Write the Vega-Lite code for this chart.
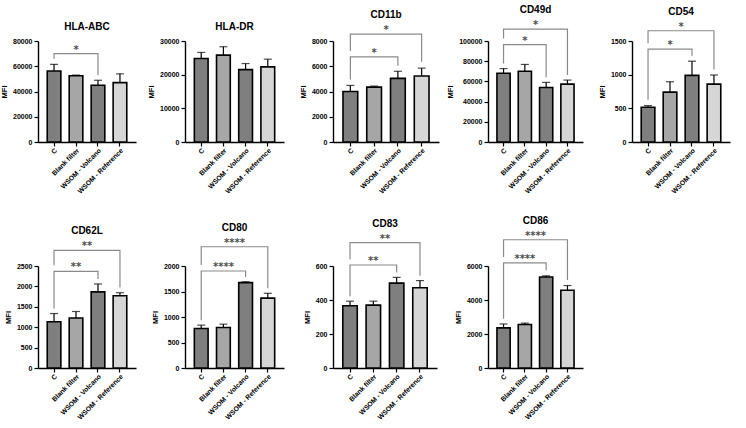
{
  "$schema": "https://vega.github.io/schema/vega-lite/v6.json",
  "padding": {"left": 0, "top": 5, "right": 2, "bottom": 0},
  "background": "white",
  "datasets": {
    "bars": [
      {"marker": "HLA-ABC", "group": "C", "mean": 56200, "upper": 61500},
      {"marker": "HLA-ABC", "group": "Blank filter", "mean": 52500, "upper": 53000},
      {"marker": "HLA-ABC", "group": "WSOM - Volcano", "mean": 44900, "upper": 48900},
      {"marker": "HLA-ABC", "group": "WSOM - Reference", "mean": 47000, "upper": 54000},
      {"marker": "HLA-DR", "group": "C", "mean": 24800, "upper": 26600},
      {"marker": "HLA-DR", "group": "Blank filter", "mean": 25800, "upper": 28300},
      {"marker": "HLA-DR", "group": "WSOM - Volcano", "mean": 21500, "upper": 23300},
      {"marker": "HLA-DR", "group": "WSOM - Reference", "mean": 22300, "upper": 24600},
      {"marker": "CD11b", "group": "C", "mean": 4000, "upper": 4480},
      {"marker": "CD11b", "group": "Blank filter", "mean": 4350, "upper": 4430},
      {"marker": "CD11b", "group": "WSOM - Volcano", "mean": 5040, "upper": 5600},
      {"marker": "CD11b", "group": "WSOM - Reference", "mean": 5230, "upper": 5850},
      {"marker": "CD49d", "group": "C", "mean": 68000, "upper": 72700},
      {"marker": "CD49d", "group": "Blank filter", "mean": 70100, "upper": 76800},
      {"marker": "CD49d", "group": "WSOM - Volcano", "mean": 53900, "upper": 59000},
      {"marker": "CD49d", "group": "WSOM - Reference", "mean": 57300, "upper": 61300},
      {"marker": "CD54", "group": "C", "mean": 515, "upper": 540},
      {"marker": "CD54", "group": "Blank filter", "mean": 740, "upper": 895},
      {"marker": "CD54", "group": "WSOM - Volcano", "mean": 990, "upper": 1200},
      {"marker": "CD54", "group": "WSOM - Reference", "mean": 860, "upper": 995},
      {"marker": "CD62L", "group": "C", "mean": 1135, "upper": 1335},
      {"marker": "CD62L", "group": "Blank filter", "mean": 1225, "upper": 1385},
      {"marker": "CD62L", "group": "WSOM - Volcano", "mean": 1865, "upper": 2060},
      {"marker": "CD62L", "group": "WSOM - Reference", "mean": 1770, "upper": 1845},
      {"marker": "CD80", "group": "C", "mean": 775, "upper": 840},
      {"marker": "CD80", "group": "Blank filter", "mean": 795, "upper": 860},
      {"marker": "CD80", "group": "WSOM - Volcano", "mean": 1675, "upper": 1690},
      {"marker": "CD80", "group": "WSOM - Reference", "mean": 1370, "upper": 1465},
      {"marker": "CD83", "group": "C", "mean": 366, "upper": 393},
      {"marker": "CD83", "group": "Blank filter", "mean": 370, "upper": 393},
      {"marker": "CD83", "group": "WSOM - Volcano", "mean": 499, "upper": 533},
      {"marker": "CD83", "group": "WSOM - Reference", "mean": 472, "upper": 514},
      {"marker": "CD86", "group": "C", "mean": 2360, "upper": 2590},
      {"marker": "CD86", "group": "Blank filter", "mean": 2555, "upper": 2640},
      {"marker": "CD86", "group": "WSOM - Volcano", "mean": 5350, "upper": 5420},
      {"marker": "CD86", "group": "WSOM - Reference", "mean": 4575, "upper": 4850}
    ],
    "brackets": [
      {"marker": "HLA-ABC", "bracket": "inner", "group": "C", "y": 65900, "o": 1},
      {"marker": "HLA-ABC", "bracket": "inner", "group": "C", "y": 70000, "o": 2},
      {"marker": "HLA-ABC", "bracket": "inner", "group": "WSOM - Volcano", "y": 70000, "o": 3},
      {"marker": "HLA-ABC", "bracket": "inner", "group": "WSOM - Volcano", "y": 52800, "o": 4},
      {"marker": "CD11b", "bracket": "inner", "group": "C", "y": 4950, "o": 1},
      {"marker": "CD11b", "bracket": "inner", "group": "C", "y": 6750, "o": 2},
      {"marker": "CD11b", "bracket": "inner", "group": "WSOM - Volcano", "y": 6750, "o": 3},
      {"marker": "CD11b", "bracket": "inner", "group": "WSOM - Volcano", "y": 6040, "o": 4},
      {"marker": "CD11b", "bracket": "outer", "group": "C", "y": 7210, "o": 1},
      {"marker": "CD11b", "bracket": "outer", "group": "C", "y": 8550, "o": 2},
      {"marker": "CD11b", "bracket": "outer", "group": "WSOM - Reference", "y": 8550, "o": 3},
      {"marker": "CD11b", "bracket": "outer", "group": "WSOM - Reference", "y": 6350, "o": 4},
      {"marker": "CD49d", "bracket": "inner", "group": "C", "y": 77800, "o": 1},
      {"marker": "CD49d", "bracket": "inner", "group": "C", "y": 96400, "o": 2},
      {"marker": "CD49d", "bracket": "inner", "group": "WSOM - Volcano", "y": 96400, "o": 3},
      {"marker": "CD49d", "bracket": "inner", "group": "WSOM - Volcano", "y": 64000, "o": 4},
      {"marker": "CD49d", "bracket": "outer", "group": "C", "y": 102400, "o": 1},
      {"marker": "CD49d", "bracket": "outer", "group": "C", "y": 111800, "o": 2},
      {"marker": "CD49d", "bracket": "outer", "group": "WSOM - Reference", "y": 111800, "o": 3},
      {"marker": "CD49d", "bracket": "outer", "group": "WSOM - Reference", "y": 66400, "o": 4},
      {"marker": "CD54", "bracket": "inner", "group": "C", "y": 626, "o": 1},
      {"marker": "CD54", "bracket": "inner", "group": "C", "y": 1378, "o": 2},
      {"marker": "CD54", "bracket": "inner", "group": "WSOM - Volcano", "y": 1378, "o": 3},
      {"marker": "CD54", "bracket": "inner", "group": "WSOM - Volcano", "y": 1280, "o": 4},
      {"marker": "CD54", "bracket": "outer", "group": "C", "y": 1466, "o": 1},
      {"marker": "CD54", "bracket": "outer", "group": "C", "y": 1652, "o": 2},
      {"marker": "CD54", "bracket": "outer", "group": "WSOM - Reference", "y": 1652, "o": 3},
      {"marker": "CD54", "bracket": "outer", "group": "WSOM - Reference", "y": 1075, "o": 4},
      {"marker": "CD62L", "bracket": "inner", "group": "C", "y": 1457, "o": 1},
      {"marker": "CD62L", "bracket": "inner", "group": "C", "y": 2370, "o": 2},
      {"marker": "CD62L", "bracket": "inner", "group": "WSOM - Volcano", "y": 2370, "o": 3},
      {"marker": "CD62L", "bracket": "inner", "group": "WSOM - Volcano", "y": 2183, "o": 4},
      {"marker": "CD62L", "bracket": "outer", "group": "C", "y": 2517, "o": 1},
      {"marker": "CD62L", "bracket": "outer", "group": "C", "y": 2884, "o": 2},
      {"marker": "CD62L", "bracket": "outer", "group": "WSOM - Reference", "y": 2884, "o": 3},
      {"marker": "CD62L", "bracket": "outer", "group": "WSOM - Reference", "y": 1970, "o": 4},
      {"marker": "CD80", "bracket": "inner", "group": "C", "y": 938, "o": 1},
      {"marker": "CD80", "bracket": "inner", "group": "C", "y": 1902, "o": 2},
      {"marker": "CD80", "bracket": "inner", "group": "WSOM - Volcano", "y": 1902, "o": 3},
      {"marker": "CD80", "bracket": "inner", "group": "WSOM - Volcano", "y": 1785, "o": 4},
      {"marker": "CD80", "bracket": "outer", "group": "C", "y": 2019, "o": 1},
      {"marker": "CD80", "bracket": "outer", "group": "C", "y": 2377, "o": 2},
      {"marker": "CD80", "bracket": "outer", "group": "WSOM - Reference", "y": 2377, "o": 3},
      {"marker": "CD80", "bracket": "outer", "group": "WSOM - Reference", "y": 1564, "o": 4},
      {"marker": "CD83", "bracket": "inner", "group": "C", "y": 422, "o": 1},
      {"marker": "CD83", "bracket": "inner", "group": "C", "y": 606, "o": 2},
      {"marker": "CD83", "bracket": "inner", "group": "WSOM - Volcano", "y": 606, "o": 3},
      {"marker": "CD83", "bracket": "inner", "group": "WSOM - Volcano", "y": 562, "o": 4},
      {"marker": "CD83", "bracket": "outer", "group": "C", "y": 640, "o": 1},
      {"marker": "CD83", "bracket": "outer", "group": "C", "y": 738, "o": 2},
      {"marker": "CD83", "bracket": "outer", "group": "WSOM - Reference", "y": 738, "o": 3},
      {"marker": "CD83", "bracket": "outer", "group": "WSOM - Reference", "y": 542, "o": 4},
      {"marker": "CD86", "bracket": "inner", "group": "C", "y": 2890, "o": 1},
      {"marker": "CD86", "bracket": "inner", "group": "C", "y": 6180, "o": 2},
      {"marker": "CD86", "bracket": "inner", "group": "WSOM - Volcano", "y": 6180, "o": 3},
      {"marker": "CD86", "bracket": "inner", "group": "WSOM - Volcano", "y": 5750, "o": 4},
      {"marker": "CD86", "bracket": "outer", "group": "C", "y": 6530, "o": 1},
      {"marker": "CD86", "bracket": "outer", "group": "C", "y": 7545, "o": 2},
      {"marker": "CD86", "bracket": "outer", "group": "WSOM - Reference", "y": 7545, "o": 3},
      {"marker": "CD86", "bracket": "outer", "group": "WSOM - Reference", "y": 5170, "o": 4}
    ],
    "stars": [
      {"marker": "HLA-ABC", "bracket": "inner", "mid": "Blank filter", "label": "*", "y": 70000},
      {"marker": "CD11b", "bracket": "inner", "mid": "Blank filter", "label": "*", "y": 6750},
      {"marker": "CD11b", "bracket": "outer", "mid": "Blank filter", "label": "*", "y": 8550},
      {"marker": "CD49d", "bracket": "inner", "mid": "Blank filter", "label": "*", "y": 96400},
      {"marker": "CD49d", "bracket": "outer", "mid": "Blank filter", "label": "*", "y": 111800},
      {"marker": "CD54", "bracket": "inner", "mid": "Blank filter", "label": "*", "y": 1378},
      {"marker": "CD54", "bracket": "outer", "mid": "Blank filter", "label": "*", "y": 1652},
      {"marker": "CD62L", "bracket": "inner", "mid": "Blank filter", "label": "**", "y": 2370},
      {"marker": "CD62L", "bracket": "outer", "mid": "Blank filter", "label": "**", "y": 2884},
      {"marker": "CD80", "bracket": "inner", "mid": "Blank filter", "label": "****", "y": 1902},
      {"marker": "CD80", "bracket": "outer", "mid": "Blank filter", "label": "****", "y": 2377},
      {"marker": "CD83", "bracket": "inner", "mid": "Blank filter", "label": "**", "y": 606},
      {"marker": "CD83", "bracket": "outer", "mid": "Blank filter", "label": "**", "y": 738},
      {"marker": "CD86", "bracket": "inner", "mid": "Blank filter", "label": "****", "y": 6180},
      {"marker": "CD86", "bracket": "outer", "mid": "Blank filter", "label": "****", "y": 7545}
    ]
  },
  "columns": 5,
  "bounds": "flush",
  "align": "each",
  "spacing": {"row": 124, "column": 49},
  "concat": [
    {
      "width": 98, "height": 101,
      "title": {"text": "HLA-ABC"},
      "encoding": {"x": {"field": "group", "type": "nominal", "sort": null, "title": null, "scale": {"domain": ["C", "Blank filter", "WSOM - Volcano", "WSOM - Reference"], "paddingInner": 0.38, "paddingOuter": 0.42}}},
      "layer": [
        {"data": {"name": "bars"}, "transform": [{"filter": "datum.marker === 'HLA-ABC'"}], "mark": {"type": "bar", "stroke": "black", "strokeWidth": 1.6}, "encoding": {"y": {"field": "mean", "type": "quantitative", "title": "MFI", "scale": {"domain": [0, 80000], "nice": false}, "axis": {"values": [0, 20000, 40000, 60000, 80000], "format": "d", "labelOverlap": false}}, "color": {"field": "group", "type": "nominal", "legend": null, "scale": {"domain": ["C", "Blank filter", "WSOM - Volcano", "WSOM - Reference"], "range": ["#7f7f7f", "#a6a6a6", "#7f7f7f", "#d6d6d6"]}}}},
        {"data": {"name": "bars"}, "transform": [{"filter": "datum.marker === 'HLA-ABC'"}], "mark": {"type": "rule", "color": "black", "strokeWidth": 1.2}, "encoding": {"y": {"field": "mean", "type": "quantitative", "title": "MFI", "axis": {"values": [0, 20000, 40000, 60000, 80000], "format": "d", "labelOverlap": false}}, "y2": {"field": "upper"}}},
        {"data": {"name": "bars"}, "transform": [{"filter": "datum.marker === 'HLA-ABC'"}], "mark": {"type": "tick", "color": "black", "thickness": 1.2, "size": 8, "orient": "horizontal"}, "encoding": {"y": {"field": "upper", "type": "quantitative", "title": "MFI", "axis": {"values": [0, 20000, 40000, 60000, 80000], "format": "d", "labelOverlap": false}}}},
        {"data": {"name": "brackets"}, "transform": [{"filter": "datum.marker === 'HLA-ABC'"}], "mark": {"type": "line", "color": "#8a8a8a", "strokeWidth": 1.2}, "encoding": {"y": {"field": "y", "type": "quantitative", "title": "MFI", "axis": {"values": [0, 20000, 40000, 60000, 80000], "format": "d", "labelOverlap": false}}, "detail": {"field": "bracket"}, "order": {"field": "o"}}},
        {"data": {"name": "stars"}, "transform": [{"filter": "datum.marker === 'HLA-ABC' && datum.bracket === 'inner'"}], "mark": {"type": "text", "font": "DejaVu Sans", "fontSize": 10, "fontWeight": "bold", "color": "#4d4d4d", "baseline": "alphabetic", "dy": -1}, "encoding": {"x": {"field": "mid", "type": "nominal", "title": null}, "y": {"field": "y", "type": "quantitative", "title": "MFI", "axis": {"values": [0, 20000, 40000, 60000, 80000], "format": "d", "labelOverlap": false}}, "text": {"field": "label"}}}
      ]
    },
    {
      "width": 99, "height": 101,
      "title": {"text": "HLA-DR"},
      "encoding": {"x": {"field": "group", "type": "nominal", "sort": null, "title": null, "scale": {"domain": ["C", "Blank filter", "WSOM - Volcano", "WSOM - Reference"], "paddingInner": 0.38, "paddingOuter": 0.42}}},
      "layer": [
        {"data": {"name": "bars"}, "transform": [{"filter": "datum.marker === 'HLA-DR'"}], "mark": {"type": "bar", "stroke": "black", "strokeWidth": 1.6}, "encoding": {"y": {"field": "mean", "type": "quantitative", "title": "MFI", "scale": {"domain": [0, 30000], "nice": false}, "axis": {"values": [0, 10000, 20000, 30000], "format": "d", "labelOverlap": false}}, "color": {"field": "group", "type": "nominal", "legend": null, "scale": {"domain": ["C", "Blank filter", "WSOM - Volcano", "WSOM - Reference"], "range": ["#7f7f7f", "#a6a6a6", "#7f7f7f", "#d6d6d6"]}}}},
        {"data": {"name": "bars"}, "transform": [{"filter": "datum.marker === 'HLA-DR'"}], "mark": {"type": "rule", "color": "black", "strokeWidth": 1.2}, "encoding": {"y": {"field": "mean", "type": "quantitative", "title": "MFI", "axis": {"values": [0, 10000, 20000, 30000], "format": "d", "labelOverlap": false}}, "y2": {"field": "upper"}}},
        {"data": {"name": "bars"}, "transform": [{"filter": "datum.marker === 'HLA-DR'"}], "mark": {"type": "tick", "color": "black", "thickness": 1.2, "size": 8, "orient": "horizontal"}, "encoding": {"y": {"field": "upper", "type": "quantitative", "title": "MFI", "axis": {"values": [0, 10000, 20000, 30000], "format": "d", "labelOverlap": false}}}}
      ]
    },
    {
      "width": 106, "height": 101,
      "title": {"text": "CD11b"},
      "encoding": {"x": {"field": "group", "type": "nominal", "sort": null, "title": null, "scale": {"domain": ["C", "Blank filter", "WSOM - Volcano", "WSOM - Reference"], "paddingInner": 0.38, "paddingOuter": 0.42}}},
      "layer": [
        {"data": {"name": "bars"}, "transform": [{"filter": "datum.marker === 'CD11b'"}], "mark": {"type": "bar", "stroke": "black", "strokeWidth": 1.6}, "encoding": {"y": {"field": "mean", "type": "quantitative", "title": "MFI", "scale": {"domain": [0, 8000], "nice": false}, "axis": {"values": [0, 2000, 4000, 6000, 8000], "format": "d", "labelOverlap": false}}, "color": {"field": "group", "type": "nominal", "legend": null, "scale": {"domain": ["C", "Blank filter", "WSOM - Volcano", "WSOM - Reference"], "range": ["#7f7f7f", "#a6a6a6", "#7f7f7f", "#d6d6d6"]}}}},
        {"data": {"name": "bars"}, "transform": [{"filter": "datum.marker === 'CD11b'"}], "mark": {"type": "rule", "color": "black", "strokeWidth": 1.2}, "encoding": {"y": {"field": "mean", "type": "quantitative", "title": "MFI", "axis": {"values": [0, 2000, 4000, 6000, 8000], "format": "d", "labelOverlap": false}}, "y2": {"field": "upper"}}},
        {"data": {"name": "bars"}, "transform": [{"filter": "datum.marker === 'CD11b'"}], "mark": {"type": "tick", "color": "black", "thickness": 1.2, "size": 8, "orient": "horizontal"}, "encoding": {"y": {"field": "upper", "type": "quantitative", "title": "MFI", "axis": {"values": [0, 2000, 4000, 6000, 8000], "format": "d", "labelOverlap": false}}}},
        {"data": {"name": "brackets"}, "transform": [{"filter": "datum.marker === 'CD11b'"}], "mark": {"type": "line", "color": "#8a8a8a", "strokeWidth": 1.2}, "encoding": {"y": {"field": "y", "type": "quantitative", "title": "MFI", "axis": {"values": [0, 2000, 4000, 6000, 8000], "format": "d", "labelOverlap": false}}, "detail": {"field": "bracket"}, "order": {"field": "o"}}},
        {"data": {"name": "stars"}, "transform": [{"filter": "datum.marker === 'CD11b' && datum.bracket === 'inner'"}], "mark": {"type": "text", "font": "DejaVu Sans", "fontSize": 10, "fontWeight": "bold", "color": "#4d4d4d", "baseline": "alphabetic", "dy": -1}, "encoding": {"x": {"field": "mid", "type": "nominal", "title": null}, "y": {"field": "y", "type": "quantitative", "title": "MFI", "axis": {"values": [0, 2000, 4000, 6000, 8000], "format": "d", "labelOverlap": false}}, "text": {"field": "label"}}},
        {"data": {"name": "stars"}, "transform": [{"filter": "datum.marker === 'CD11b' && datum.bracket === 'outer'"}], "mark": {"type": "text", "font": "DejaVu Sans", "fontSize": 10, "fontWeight": "bold", "color": "#4d4d4d", "baseline": "alphabetic", "dy": -1}, "encoding": {"x": {"field": "mid", "type": "nominal", "title": null, "bandPosition": 1.306}, "y": {"field": "y", "type": "quantitative", "title": "MFI", "axis": {"values": [0, 2000, 4000, 6000, 8000], "format": "d", "labelOverlap": false}}, "text": {"field": "label"}}}
      ]
    },
    {
      "width": 95, "height": 101,
      "title": {"text": "CD49d"},
      "encoding": {"x": {"field": "group", "type": "nominal", "sort": null, "title": null, "scale": {"domain": ["C", "Blank filter", "WSOM - Volcano", "WSOM - Reference"], "paddingInner": 0.38, "paddingOuter": 0.42}}},
      "layer": [
        {"data": {"name": "bars"}, "transform": [{"filter": "datum.marker === 'CD49d'"}], "mark": {"type": "bar", "stroke": "black", "strokeWidth": 1.6}, "encoding": {"y": {"field": "mean", "type": "quantitative", "title": "MFI", "scale": {"domain": [0, 100000], "nice": false}, "axis": {"values": [0, 20000, 40000, 60000, 80000, 100000], "format": "d", "labelOverlap": false}}, "color": {"field": "group", "type": "nominal", "legend": null, "scale": {"domain": ["C", "Blank filter", "WSOM - Volcano", "WSOM - Reference"], "range": ["#7f7f7f", "#a6a6a6", "#7f7f7f", "#d6d6d6"]}}}},
        {"data": {"name": "bars"}, "transform": [{"filter": "datum.marker === 'CD49d'"}], "mark": {"type": "rule", "color": "black", "strokeWidth": 1.2}, "encoding": {"y": {"field": "mean", "type": "quantitative", "title": "MFI", "axis": {"values": [0, 20000, 40000, 60000, 80000, 100000], "format": "d", "labelOverlap": false}}, "y2": {"field": "upper"}}},
        {"data": {"name": "bars"}, "transform": [{"filter": "datum.marker === 'CD49d'"}], "mark": {"type": "tick", "color": "black", "thickness": 1.2, "size": 8, "orient": "horizontal"}, "encoding": {"y": {"field": "upper", "type": "quantitative", "title": "MFI", "axis": {"values": [0, 20000, 40000, 60000, 80000, 100000], "format": "d", "labelOverlap": false}}}},
        {"data": {"name": "brackets"}, "transform": [{"filter": "datum.marker === 'CD49d'"}], "mark": {"type": "line", "color": "#8a8a8a", "strokeWidth": 1.2}, "encoding": {"y": {"field": "y", "type": "quantitative", "title": "MFI", "axis": {"values": [0, 20000, 40000, 60000, 80000, 100000], "format": "d", "labelOverlap": false}}, "detail": {"field": "bracket"}, "order": {"field": "o"}}},
        {"data": {"name": "stars"}, "transform": [{"filter": "datum.marker === 'CD49d' && datum.bracket === 'inner'"}], "mark": {"type": "text", "font": "DejaVu Sans", "fontSize": 10, "fontWeight": "bold", "color": "#4d4d4d", "baseline": "alphabetic", "dy": -1}, "encoding": {"x": {"field": "mid", "type": "nominal", "title": null}, "y": {"field": "y", "type": "quantitative", "title": "MFI", "axis": {"values": [0, 20000, 40000, 60000, 80000, 100000], "format": "d", "labelOverlap": false}}, "text": {"field": "label"}}},
        {"data": {"name": "stars"}, "transform": [{"filter": "datum.marker === 'CD49d' && datum.bracket === 'outer'"}], "mark": {"type": "text", "font": "DejaVu Sans", "fontSize": 10, "fontWeight": "bold", "color": "#4d4d4d", "baseline": "alphabetic", "dy": -1}, "encoding": {"x": {"field": "mid", "type": "nominal", "title": null, "bandPosition": 1.306}, "y": {"field": "y", "type": "quantitative", "title": "MFI", "axis": {"values": [0, 20000, 40000, 60000, 80000, 100000], "format": "d", "labelOverlap": false}}, "text": {"field": "label"}}}
      ]
    },
    {
      "width": 98, "height": 101,
      "title": {"text": "CD54"},
      "encoding": {"x": {"field": "group", "type": "nominal", "sort": null, "title": null, "scale": {"domain": ["C", "Blank filter", "WSOM - Volcano", "WSOM - Reference"], "paddingInner": 0.38, "paddingOuter": 0.42}}},
      "layer": [
        {"data": {"name": "bars"}, "transform": [{"filter": "datum.marker === 'CD54'"}], "mark": {"type": "bar", "stroke": "black", "strokeWidth": 1.6}, "encoding": {"y": {"field": "mean", "type": "quantitative", "title": "MFI", "scale": {"domain": [0, 1500], "nice": false}, "axis": {"values": [0, 500, 1000, 1500], "format": "d", "labelOverlap": false}}, "color": {"field": "group", "type": "nominal", "legend": null, "scale": {"domain": ["C", "Blank filter", "WSOM - Volcano", "WSOM - Reference"], "range": ["#7f7f7f", "#a6a6a6", "#7f7f7f", "#d6d6d6"]}}}},
        {"data": {"name": "bars"}, "transform": [{"filter": "datum.marker === 'CD54'"}], "mark": {"type": "rule", "color": "black", "strokeWidth": 1.2}, "encoding": {"y": {"field": "mean", "type": "quantitative", "title": "MFI", "axis": {"values": [0, 500, 1000, 1500], "format": "d", "labelOverlap": false}}, "y2": {"field": "upper"}}},
        {"data": {"name": "bars"}, "transform": [{"filter": "datum.marker === 'CD54'"}], "mark": {"type": "tick", "color": "black", "thickness": 1.2, "size": 8, "orient": "horizontal"}, "encoding": {"y": {"field": "upper", "type": "quantitative", "title": "MFI", "axis": {"values": [0, 500, 1000, 1500], "format": "d", "labelOverlap": false}}}},
        {"data": {"name": "brackets"}, "transform": [{"filter": "datum.marker === 'CD54'"}], "mark": {"type": "line", "color": "#8a8a8a", "strokeWidth": 1.2}, "encoding": {"y": {"field": "y", "type": "quantitative", "title": "MFI", "axis": {"values": [0, 500, 1000, 1500], "format": "d", "labelOverlap": false}}, "detail": {"field": "bracket"}, "order": {"field": "o"}}},
        {"data": {"name": "stars"}, "transform": [{"filter": "datum.marker === 'CD54' && datum.bracket === 'inner'"}], "mark": {"type": "text", "font": "DejaVu Sans", "fontSize": 10, "fontWeight": "bold", "color": "#4d4d4d", "baseline": "alphabetic", "dy": -1}, "encoding": {"x": {"field": "mid", "type": "nominal", "title": null}, "y": {"field": "y", "type": "quantitative", "title": "MFI", "axis": {"values": [0, 500, 1000, 1500], "format": "d", "labelOverlap": false}}, "text": {"field": "label"}}},
        {"data": {"name": "stars"}, "transform": [{"filter": "datum.marker === 'CD54' && datum.bracket === 'outer'"}], "mark": {"type": "text", "font": "DejaVu Sans", "fontSize": 10, "fontWeight": "bold", "color": "#4d4d4d", "baseline": "alphabetic", "dy": -1}, "encoding": {"x": {"field": "mid", "type": "nominal", "title": null, "bandPosition": 1.306}, "y": {"field": "y", "type": "quantitative", "title": "MFI", "axis": {"values": [0, 500, 1000, 1500], "format": "d", "labelOverlap": false}}, "text": {"field": "label"}}}
      ]
    },
    {
      "width": 98, "height": 102,
      "title": {"text": "CD62L"},
      "encoding": {"x": {"field": "group", "type": "nominal", "sort": null, "title": null, "scale": {"domain": ["C", "Blank filter", "WSOM - Volcano", "WSOM - Reference"], "paddingInner": 0.38, "paddingOuter": 0.42}}},
      "layer": [
        {"data": {"name": "bars"}, "transform": [{"filter": "datum.marker === 'CD62L'"}], "mark": {"type": "bar", "stroke": "black", "strokeWidth": 1.6}, "encoding": {"y": {"field": "mean", "type": "quantitative", "title": "MFI", "scale": {"domain": [0, 2500], "nice": false}, "axis": {"values": [0, 500, 1000, 1500, 2000, 2500], "format": "d", "labelOverlap": false}}, "color": {"field": "group", "type": "nominal", "legend": null, "scale": {"domain": ["C", "Blank filter", "WSOM - Volcano", "WSOM - Reference"], "range": ["#7f7f7f", "#a6a6a6", "#7f7f7f", "#d6d6d6"]}}}},
        {"data": {"name": "bars"}, "transform": [{"filter": "datum.marker === 'CD62L'"}], "mark": {"type": "rule", "color": "black", "strokeWidth": 1.2}, "encoding": {"y": {"field": "mean", "type": "quantitative", "title": "MFI", "axis": {"values": [0, 500, 1000, 1500, 2000, 2500], "format": "d", "labelOverlap": false}}, "y2": {"field": "upper"}}},
        {"data": {"name": "bars"}, "transform": [{"filter": "datum.marker === 'CD62L'"}], "mark": {"type": "tick", "color": "black", "thickness": 1.2, "size": 8, "orient": "horizontal"}, "encoding": {"y": {"field": "upper", "type": "quantitative", "title": "MFI", "axis": {"values": [0, 500, 1000, 1500, 2000, 2500], "format": "d", "labelOverlap": false}}}},
        {"data": {"name": "brackets"}, "transform": [{"filter": "datum.marker === 'CD62L'"}], "mark": {"type": "line", "color": "#8a8a8a", "strokeWidth": 1.2}, "encoding": {"y": {"field": "y", "type": "quantitative", "title": "MFI", "axis": {"values": [0, 500, 1000, 1500, 2000, 2500], "format": "d", "labelOverlap": false}}, "detail": {"field": "bracket"}, "order": {"field": "o"}}},
        {"data": {"name": "stars"}, "transform": [{"filter": "datum.marker === 'CD62L' && datum.bracket === 'inner'"}], "mark": {"type": "text", "font": "DejaVu Sans", "fontSize": 10, "fontWeight": "bold", "color": "#4d4d4d", "baseline": "alphabetic", "dy": -1}, "encoding": {"x": {"field": "mid", "type": "nominal", "title": null}, "y": {"field": "y", "type": "quantitative", "title": "MFI", "axis": {"values": [0, 500, 1000, 1500, 2000, 2500], "format": "d", "labelOverlap": false}}, "text": {"field": "label"}}},
        {"data": {"name": "stars"}, "transform": [{"filter": "datum.marker === 'CD62L' && datum.bracket === 'outer'"}], "mark": {"type": "text", "font": "DejaVu Sans", "fontSize": 10, "fontWeight": "bold", "color": "#4d4d4d", "baseline": "alphabetic", "dy": -1}, "encoding": {"x": {"field": "mid", "type": "nominal", "title": null, "bandPosition": 1.306}, "y": {"field": "y", "type": "quantitative", "title": "MFI", "axis": {"values": [0, 500, 1000, 1500, 2000, 2500], "format": "d", "labelOverlap": false}}, "text": {"field": "label"}}}
      ]
    },
    {
      "width": 99, "height": 102,
      "title": {"text": "CD80"},
      "encoding": {"x": {"field": "group", "type": "nominal", "sort": null, "title": null, "scale": {"domain": ["C", "Blank filter", "WSOM - Volcano", "WSOM - Reference"], "paddingInner": 0.38, "paddingOuter": 0.42}}},
      "layer": [
        {"data": {"name": "bars"}, "transform": [{"filter": "datum.marker === 'CD80'"}], "mark": {"type": "bar", "stroke": "black", "strokeWidth": 1.6}, "encoding": {"y": {"field": "mean", "type": "quantitative", "title": "MFI", "scale": {"domain": [0, 2000], "nice": false}, "axis": {"values": [0, 500, 1000, 1500, 2000], "format": "d", "labelOverlap": false}}, "color": {"field": "group", "type": "nominal", "legend": null, "scale": {"domain": ["C", "Blank filter", "WSOM - Volcano", "WSOM - Reference"], "range": ["#7f7f7f", "#a6a6a6", "#7f7f7f", "#d6d6d6"]}}}},
        {"data": {"name": "bars"}, "transform": [{"filter": "datum.marker === 'CD80'"}], "mark": {"type": "rule", "color": "black", "strokeWidth": 1.2}, "encoding": {"y": {"field": "mean", "type": "quantitative", "title": "MFI", "axis": {"values": [0, 500, 1000, 1500, 2000], "format": "d", "labelOverlap": false}}, "y2": {"field": "upper"}}},
        {"data": {"name": "bars"}, "transform": [{"filter": "datum.marker === 'CD80'"}], "mark": {"type": "tick", "color": "black", "thickness": 1.2, "size": 8, "orient": "horizontal"}, "encoding": {"y": {"field": "upper", "type": "quantitative", "title": "MFI", "axis": {"values": [0, 500, 1000, 1500, 2000], "format": "d", "labelOverlap": false}}}},
        {"data": {"name": "brackets"}, "transform": [{"filter": "datum.marker === 'CD80'"}], "mark": {"type": "line", "color": "#8a8a8a", "strokeWidth": 1.2}, "encoding": {"y": {"field": "y", "type": "quantitative", "title": "MFI", "axis": {"values": [0, 500, 1000, 1500, 2000], "format": "d", "labelOverlap": false}}, "detail": {"field": "bracket"}, "order": {"field": "o"}}},
        {"data": {"name": "stars"}, "transform": [{"filter": "datum.marker === 'CD80' && datum.bracket === 'inner'"}], "mark": {"type": "text", "font": "DejaVu Sans", "fontSize": 10, "fontWeight": "bold", "color": "#4d4d4d", "baseline": "alphabetic", "dy": -1}, "encoding": {"x": {"field": "mid", "type": "nominal", "title": null}, "y": {"field": "y", "type": "quantitative", "title": "MFI", "axis": {"values": [0, 500, 1000, 1500, 2000], "format": "d", "labelOverlap": false}}, "text": {"field": "label"}}},
        {"data": {"name": "stars"}, "transform": [{"filter": "datum.marker === 'CD80' && datum.bracket === 'outer'"}], "mark": {"type": "text", "font": "DejaVu Sans", "fontSize": 10, "fontWeight": "bold", "color": "#4d4d4d", "baseline": "alphabetic", "dy": -1}, "encoding": {"x": {"field": "mid", "type": "nominal", "title": null, "bandPosition": 1.306}, "y": {"field": "y", "type": "quantitative", "title": "MFI", "axis": {"values": [0, 500, 1000, 1500, 2000], "format": "d", "labelOverlap": false}}, "text": {"field": "label"}}}
      ]
    },
    {
      "width": 104, "height": 102,
      "title": {"text": "CD83"},
      "encoding": {"x": {"field": "group", "type": "nominal", "sort": null, "title": null, "scale": {"domain": ["C", "Blank filter", "WSOM - Volcano", "WSOM - Reference"], "paddingInner": 0.38, "paddingOuter": 0.42}}},
      "layer": [
        {"data": {"name": "bars"}, "transform": [{"filter": "datum.marker === 'CD83'"}], "mark": {"type": "bar", "stroke": "black", "strokeWidth": 1.6}, "encoding": {"y": {"field": "mean", "type": "quantitative", "title": "MFI", "scale": {"domain": [0, 600], "nice": false}, "axis": {"values": [0, 200, 400, 600], "format": "d", "labelOverlap": false}}, "color": {"field": "group", "type": "nominal", "legend": null, "scale": {"domain": ["C", "Blank filter", "WSOM - Volcano", "WSOM - Reference"], "range": ["#7f7f7f", "#a6a6a6", "#7f7f7f", "#d6d6d6"]}}}},
        {"data": {"name": "bars"}, "transform": [{"filter": "datum.marker === 'CD83'"}], "mark": {"type": "rule", "color": "black", "strokeWidth": 1.2}, "encoding": {"y": {"field": "mean", "type": "quantitative", "title": "MFI", "axis": {"values": [0, 200, 400, 600], "format": "d", "labelOverlap": false}}, "y2": {"field": "upper"}}},
        {"data": {"name": "bars"}, "transform": [{"filter": "datum.marker === 'CD83'"}], "mark": {"type": "tick", "color": "black", "thickness": 1.2, "size": 8, "orient": "horizontal"}, "encoding": {"y": {"field": "upper", "type": "quantitative", "title": "MFI", "axis": {"values": [0, 200, 400, 600], "format": "d", "labelOverlap": false}}}},
        {"data": {"name": "brackets"}, "transform": [{"filter": "datum.marker === 'CD83'"}], "mark": {"type": "line", "color": "#8a8a8a", "strokeWidth": 1.2}, "encoding": {"y": {"field": "y", "type": "quantitative", "title": "MFI", "axis": {"values": [0, 200, 400, 600], "format": "d", "labelOverlap": false}}, "detail": {"field": "bracket"}, "order": {"field": "o"}}},
        {"data": {"name": "stars"}, "transform": [{"filter": "datum.marker === 'CD83' && datum.bracket === 'inner'"}], "mark": {"type": "text", "font": "DejaVu Sans", "fontSize": 10, "fontWeight": "bold", "color": "#4d4d4d", "baseline": "alphabetic", "dy": -1}, "encoding": {"x": {"field": "mid", "type": "nominal", "title": null}, "y": {"field": "y", "type": "quantitative", "title": "MFI", "axis": {"values": [0, 200, 400, 600], "format": "d", "labelOverlap": false}}, "text": {"field": "label"}}},
        {"data": {"name": "stars"}, "transform": [{"filter": "datum.marker === 'CD83' && datum.bracket === 'outer'"}], "mark": {"type": "text", "font": "DejaVu Sans", "fontSize": 10, "fontWeight": "bold", "color": "#4d4d4d", "baseline": "alphabetic", "dy": -1}, "encoding": {"x": {"field": "mid", "type": "nominal", "title": null, "bandPosition": 1.306}, "y": {"field": "y", "type": "quantitative", "title": "MFI", "axis": {"values": [0, 200, 400, 600], "format": "d", "labelOverlap": false}}, "text": {"field": "label"}}}
      ]
    },
    {
      "width": 95, "height": 102,
      "title": {"text": "CD86"},
      "encoding": {"x": {"field": "group", "type": "nominal", "sort": null, "title": null, "scale": {"domain": ["C", "Blank filter", "WSOM - Volcano", "WSOM - Reference"], "paddingInner": 0.38, "paddingOuter": 0.42}}},
      "layer": [
        {"data": {"name": "bars"}, "transform": [{"filter": "datum.marker === 'CD86'"}], "mark": {"type": "bar", "stroke": "black", "strokeWidth": 1.6}, "encoding": {"y": {"field": "mean", "type": "quantitative", "title": "MFI", "scale": {"domain": [0, 6000], "nice": false}, "axis": {"values": [0, 2000, 4000, 6000], "format": "d", "labelOverlap": false}}, "color": {"field": "group", "type": "nominal", "legend": null, "scale": {"domain": ["C", "Blank filter", "WSOM - Volcano", "WSOM - Reference"], "range": ["#7f7f7f", "#a6a6a6", "#7f7f7f", "#d6d6d6"]}}}},
        {"data": {"name": "bars"}, "transform": [{"filter": "datum.marker === 'CD86'"}], "mark": {"type": "rule", "color": "black", "strokeWidth": 1.2}, "encoding": {"y": {"field": "mean", "type": "quantitative", "title": "MFI", "axis": {"values": [0, 2000, 4000, 6000], "format": "d", "labelOverlap": false}}, "y2": {"field": "upper"}}},
        {"data": {"name": "bars"}, "transform": [{"filter": "datum.marker === 'CD86'"}], "mark": {"type": "tick", "color": "black", "thickness": 1.2, "size": 8, "orient": "horizontal"}, "encoding": {"y": {"field": "upper", "type": "quantitative", "title": "MFI", "axis": {"values": [0, 2000, 4000, 6000], "format": "d", "labelOverlap": false}}}},
        {"data": {"name": "brackets"}, "transform": [{"filter": "datum.marker === 'CD86'"}], "mark": {"type": "line", "color": "#8a8a8a", "strokeWidth": 1.2}, "encoding": {"y": {"field": "y", "type": "quantitative", "title": "MFI", "axis": {"values": [0, 2000, 4000, 6000], "format": "d", "labelOverlap": false}}, "detail": {"field": "bracket"}, "order": {"field": "o"}}},
        {"data": {"name": "stars"}, "transform": [{"filter": "datum.marker === 'CD86' && datum.bracket === 'inner'"}], "mark": {"type": "text", "font": "DejaVu Sans", "fontSize": 10, "fontWeight": "bold", "color": "#4d4d4d", "baseline": "alphabetic", "dy": -1}, "encoding": {"x": {"field": "mid", "type": "nominal", "title": null}, "y": {"field": "y", "type": "quantitative", "title": "MFI", "axis": {"values": [0, 2000, 4000, 6000], "format": "d", "labelOverlap": false}}, "text": {"field": "label"}}},
        {"data": {"name": "stars"}, "transform": [{"filter": "datum.marker === 'CD86' && datum.bracket === 'outer'"}], "mark": {"type": "text", "font": "DejaVu Sans", "fontSize": 10, "fontWeight": "bold", "color": "#4d4d4d", "baseline": "alphabetic", "dy": -1}, "encoding": {"x": {"field": "mid", "type": "nominal", "title": null, "bandPosition": 1.306}, "y": {"field": "y", "type": "quantitative", "title": "MFI", "axis": {"values": [0, 2000, 4000, 6000], "format": "d", "labelOverlap": false}}, "text": {"field": "label"}}}
      ]
    }
  ],
  "config": {
    "font": "Liberation Sans",
    "view": {"stroke": null},
    "axis": {"labelFont": "Liberation Sans", "labelFontWeight": "bold", "labelFontSize": 7, "labelColor": "black", "titleFont": "Liberation Sans", "titleFontWeight": "bold", "titleFontSize": 7.5, "titleColor": "black", "domainColor": "black", "domainWidth": 1.4, "tickColor": "black", "tickWidth": 1.2, "tickSize": 4, "grid": false, "labelPadding": 2, "titlePadding": 4},
    "axisY": {"labelOverlap": false, "labelFlush": false},
    "axisX": {"labelAngle": -45, "labelPadding": 1, "labelFontSize": 6.8},
    "title": {"font": "Liberation Sans", "fontSize": 10, "fontWeight": "bold", "color": "black", "frame": "group", "anchor": "middle", "offset": 5}
  }
}
